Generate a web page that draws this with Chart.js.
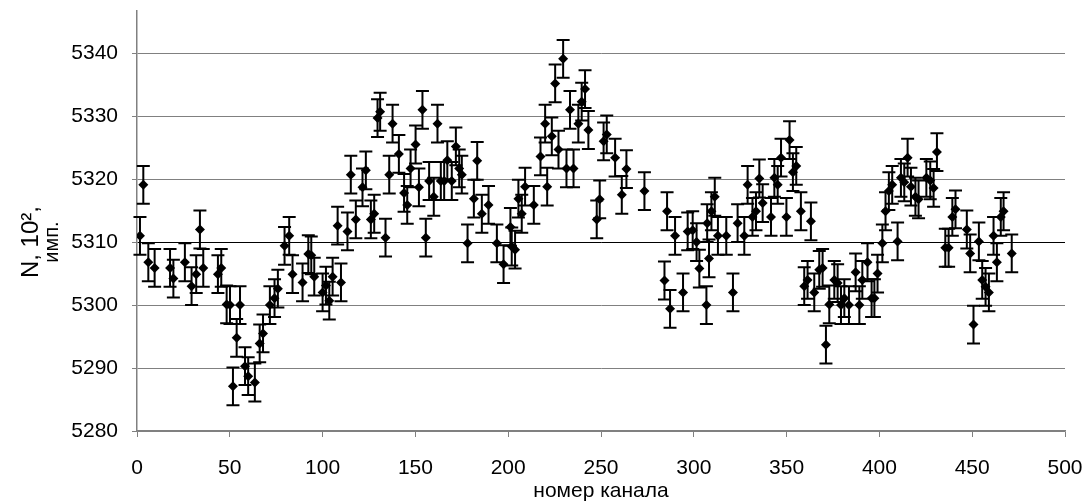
<!DOCTYPE html>
<html><head><meta charset="utf-8">
<script src="https://cdn.jsdelivr.net/npm/chart.js@4/dist/chart.umd.min.js"></script>
<style>html,body{margin:0;padding:0;background:#fff}</style>
</head><body>
<canvas id="c" width="1087" height="504"></canvas>
<script>
const channels = [1.6,3.4,6.1,9.5,17.8,19.6,25.8,29.4,31.9,33.9,35.7,43.6,45.4,48.3,50.1,51.7,53.7,55.5,58.2,59.9,63.5,66.1,67.9,71.6,74.1,75.9,79.5,82,83.8,89.2,92.3,93.9,95.5,100,101.8,103.6,105.4,108.1,109.9,113.4,115.2,117.9,121.5,123.3,126,127.8,129.6,131,133.9,135.9,137.7,141.1,143.9,145.6,147.4,150.1,151.9,153.8,155.6,157.4,159.9,161.9,163.7,165.5,167.2,169.6,171.8,173.6,175,178.1,181.5,183.3,185.8,189.4,193.9,197.5,201.2,201.9,203.7,205.5,207.3,209.1,213.8,217.4,219.9,221,223.5,225.3,227.1,229.6,231.4,233.3,235.2,237.8,239.6,241.4,243.2,247.7,249.3,251.4,253.1,257.6,261.2,263.7,273.4,284.2,285.6,287.2,289.9,294.2,296.7,299.4,301.5,303,306.8,307.2,308.2,309.5,311.3,313,317.5,321.1,323.6,327.2,329,331.6,333.5,335.3,337.1,341.6,343.4,345.2,347,349.9,351.6,353.4,355.2,357.7,359.5,361.3,363.1,364.9,367.6,369.4,371.2,373,375.7,377.5,379.3,381.1,383.6,387.2,389.2,390.8,393.6,395.8,397.3,399,401.6,403.3,405.1,406.9,409.8,411.6,413.4,415.2,417,419.4,421.1,425.3,427.4,429.2,431,435.5,437.3,439.3,441,447.1,448.9,450.7,453.6,455.4,457.2,459,461.5,463.3,465.4,466.9,471.3];
const counts = [5311,5319.1,5306.8,5305.9,5305.9,5304.2,5306.8,5303,5304.9,5312,5305.9,5304.9,5305.9,5300.1,5300,5287.1,5294.8,5300,5290.3,5288.7,5287.7,5293.9,5295.5,5300,5301.1,5302.6,5309.4,5311,5304.9,5303.6,5308.1,5307.9,5304.5,5302,5303.1,5300.7,5304.5,5312.6,5303.6,5311.7,5320.7,5313.6,5318.7,5321.4,5313.6,5314.5,5329.7,5330.7,5310.7,5320.7,5328.8,5324,5317.8,5315.9,5321.7,5325.5,5318.7,5331,5310.7,5319.7,5317.2,5328.8,5319.7,5319.7,5323,5319.7,5325.2,5321.7,5320.7,5309.8,5316.9,5322.9,5314.5,5315.9,5309.8,5306.5,5312.4,5309.3,5308.8,5316.9,5314.5,5318.8,5315.9,5323.6,5328.8,5318.8,5326.8,5335.2,5324.7,5339.1,5321.7,5331,5321.7,5328.8,5332.3,5334.3,5327.8,5313.6,5316.8,5326,5327.1,5323.4,5317.5,5321.6,5318.1,5303.9,5314.9,5299.4,5311,5302,5311.7,5311.9,5310,5305.8,5300,5313,5307.4,5314.9,5317.2,5311,5311,5302,5313,5311,5319.1,5314,5314.9,5320.1,5316.2,5314,5320.2,5319.1,5323.4,5314,5326.2,5321.1,5322.1,5314.9,5303,5304,5313.3,5302,5305.6,5305.9,5293.7,5300.1,5304,5303.5,5300,5301.1,5300,5305.2,5300,5304,5306.8,5301.1,5301.1,5305,5309.8,5314.9,5318.1,5319.1,5310.1,5320.2,5319.5,5323.4,5318.8,5317.2,5316.8,5320.2,5319.8,5318.6,5324.3,5309.1,5309.1,5314,5315.2,5312,5308.2,5296.9,5310.1,5304,5302.9,5302,5311,5306.8,5314,5314.9,5308.2];
const errHalf = 3;
const xTicks = [0,50,100,150,200,250,300,350,400,450,500];
const yTicks = [5280,5290,5300,5310,5320,5330,5340];
const xTitle = 'номер канала';
const yTitleLines = ['N, 10²,', 'имп.'];

const FONT = "'Liberation Sans',Arial,sans-serif";

const errorBars = {
  id: 'errorBars',
  beforeDatasetsDraw(chart) {
    const {ctx} = chart; const x = chart.scales.x, y = chart.scales.y;
    ctx.save(); ctx.strokeStyle = '#000'; ctx.lineWidth = 2;
    channels.forEach((c, i) => {
      const px = x.getPixelForValue(c);
      const t = y.getPixelForValue(counts[i] + errHalf), b = y.getPixelForValue(counts[i] - errHalf);
      ctx.beginPath();
      ctx.moveTo(px, t); ctx.lineTo(px, b);
      ctx.moveTo(px - 6.5, t); ctx.lineTo(px + 6.5, t);
      ctx.moveTo(px - 6.5, b); ctx.lineTo(px + 6.5, b);
      ctx.stroke();
    });
    ctx.restore();
  }
};
const yTitle = {
  id: 'yTitle',
  afterDraw(chart) {
    const {ctx} = chart;
    const yc = (chart.scales.y.getPixelForValue(5280) + chart.scales.y.getPixelForValue(5340)) / 2;
    ctx.save(); ctx.fillStyle = '#000'; ctx.textAlign = 'center'; ctx.textBaseline = 'middle';
    ctx.translate(31, yc); ctx.rotate(-Math.PI / 2);
    ctx.font = "24px " + FONT; ctx.fillText(yTitleLines[0], 0, 0);
    ctx.font = "20px " + FONT; ctx.fillText(yTitleLines[1], 0, 21);
    ctx.restore();
  }
};

new Chart(document.getElementById('c'), {
  type: 'scatter',
  data: { datasets: [{
    data: channels.map((c, i) => ({x: c, y: counts[i]})),
    pointStyle: 'rectRot', pointRadius: 5, pointHoverRadius: 5,
    backgroundColor: '#000', borderColor: '#000', borderWidth: 0
  }]},
  options: {
    responsive: false, animation: false, events: [],
    layout: { padding: { top: 11, right: 22, left: 0, bottom: 0 } },
    plugins: { legend: { display: false }, tooltip: { enabled: false } },
    scales: {
      x: {
        type: 'linear', min: 0, max: 500,
        afterBuildTicks: s => { s.ticks = xTicks.map(v => ({value: v})); },
        afterFit: s => { s.height = 73; s.paddingLeft = 0; s.paddingRight = 0; },
        ticks: { font: { family: FONT, size: 21 }, color: '#000', padding: 19, maxRotation: 0, autoSkip: false, callback: v => String(v) },
        grid: { drawOnChartArea: false, drawTicks: true, tickLength: 6, tickColor: '#808080' },
        border: { color: '#808080', width: 1.5 },
        title: { display: true, text: xTitle, color: '#000', font: { family: FONT, size: 21 }, padding: { top: 0, bottom: 0 } }
      },
      y: {
        type: 'linear', min: 5280, max: 5346.7,
        afterBuildTicks: s => { s.ticks = yTicks.map(v => ({value: v})); },
        afterFit: s => { s.width = 137; s.paddingTop = 0; s.paddingBottom = 0; },
        ticks: { font: { family: FONT, size: 21 }, color: '#000', padding: 14, callback: v => String(v) },
        grid: { color: c => (c.tick && c.tick.value === 5310) ? '#000' : '#808080', lineWidth: 1, tickLength: 5, tickColor: '#808080' },
        border: { color: '#808080', width: 1.5 }
      }
    }
  },
  plugins: [errorBars, yTitle]
});
</script>
</body></html>
